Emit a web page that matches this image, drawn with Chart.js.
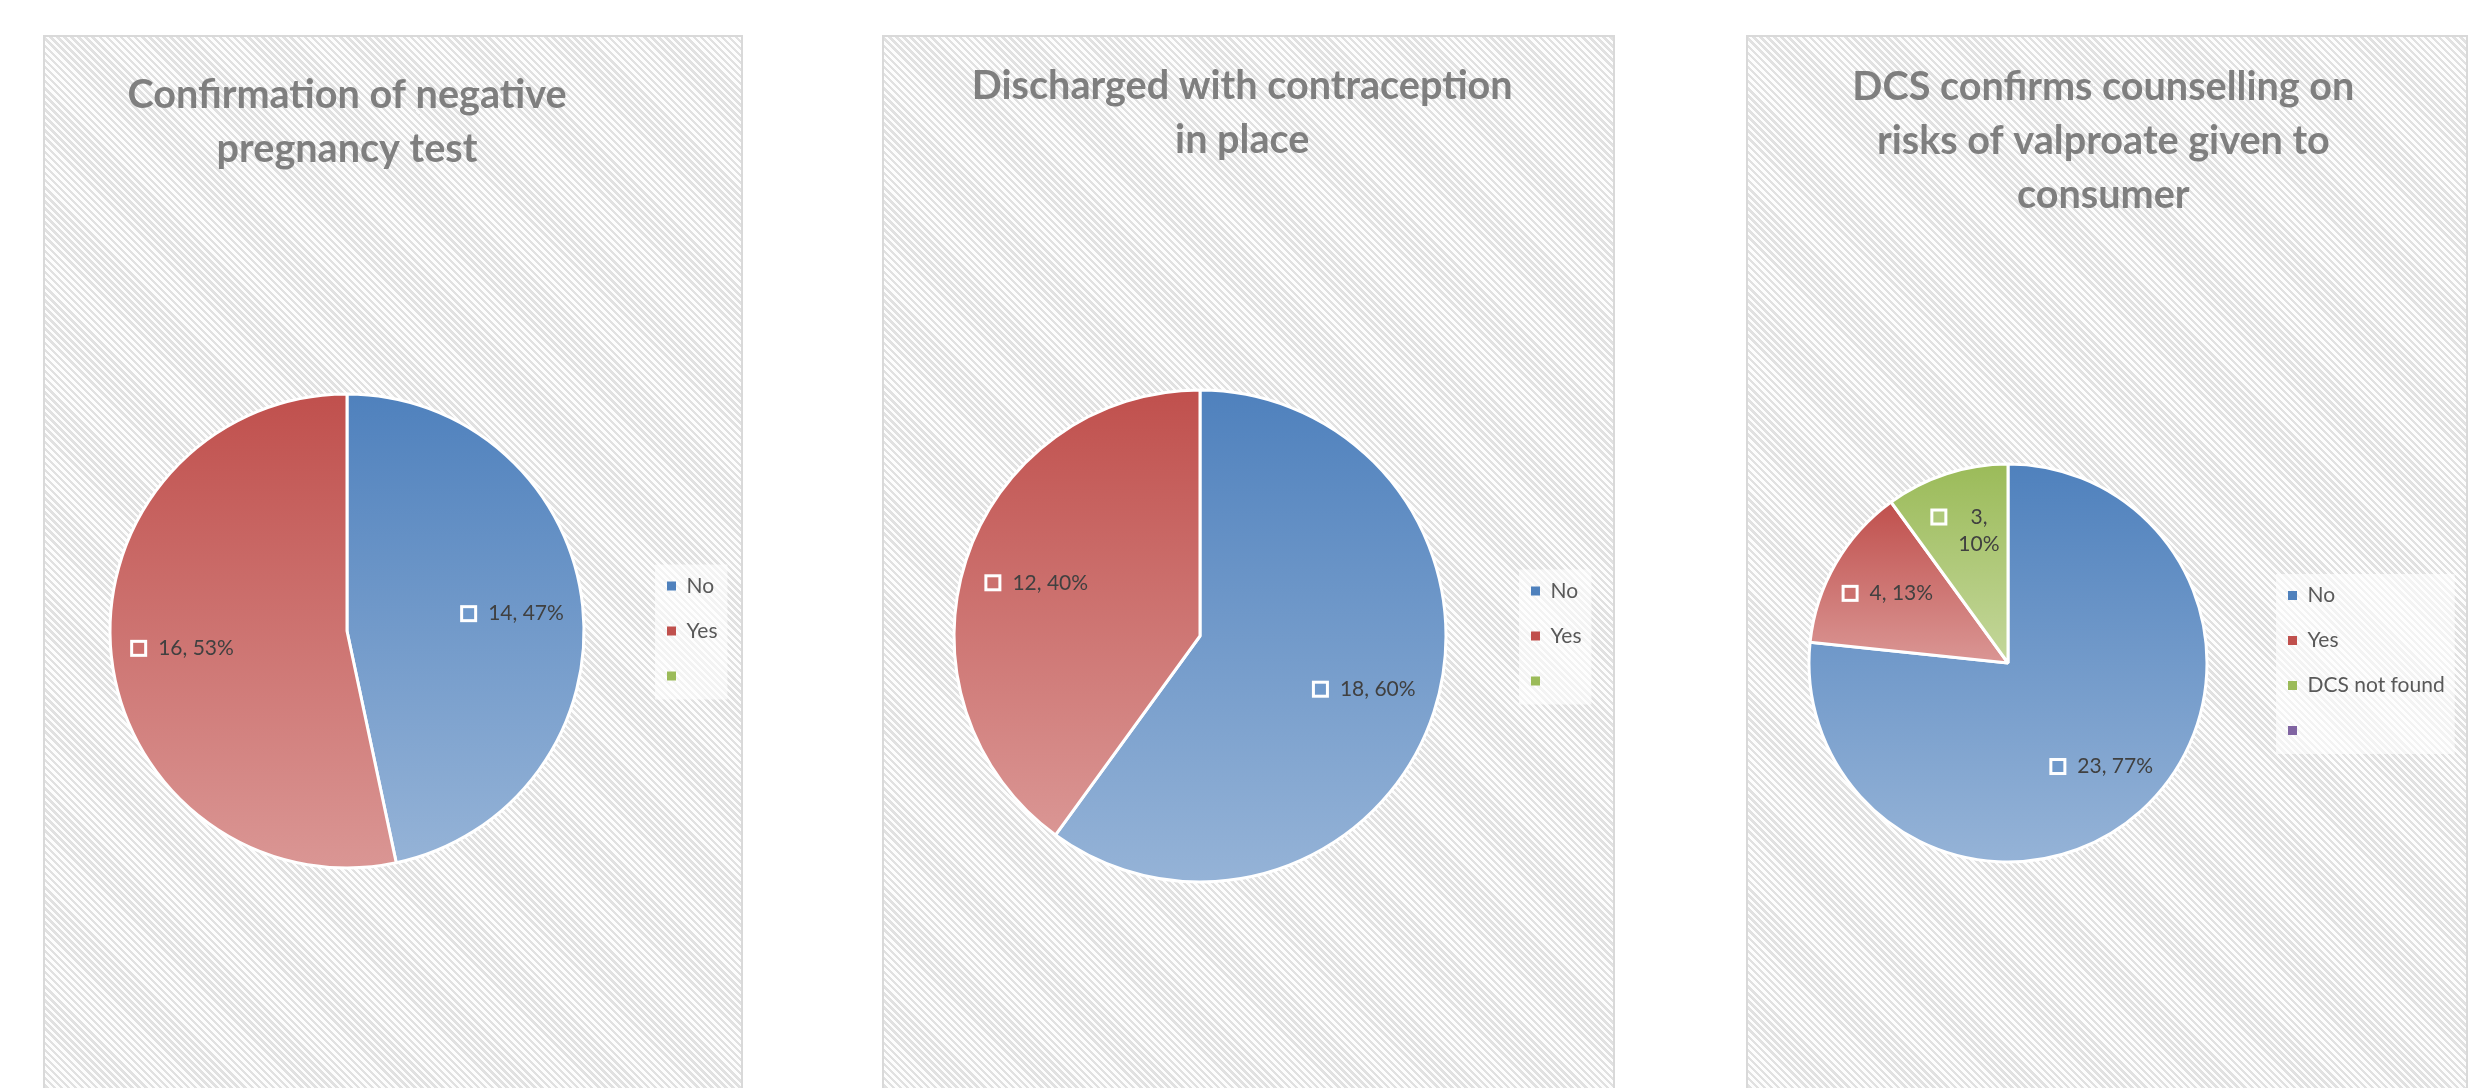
<!DOCTYPE html>
<html>
<head>
<meta charset="utf-8">
<script src="https://cdn.jsdelivr.net/npm/chart.js@4.4.1/dist/chart.umd.min.js"></script>
<style>
  html, body { margin: 0; padding: 0; background: #fff; overflow: hidden; }
  body { width: 2475px; height: 1088px; position: relative; }
  .panel {
    position: absolute; box-sizing: border-box; border: 2px solid #d9d9d9;
    background: repeating-linear-gradient(45deg, #fdfdfd 0px, #fdfdfd 2.5px, #e1e1e1 2.5px, #e1e1e1 5px);
  }
  canvas { position: absolute; }
</style>
</head>
<body>
<div class="panel" style="left:43px; top:35px; width:700px; height:1100px"></div>
<div class="panel" style="left:882px; top:35px; width:733px; height:1100px"></div>
<div class="panel" style="left:1746px; top:35px; width:722px; height:1100px"></div>
<canvas id="c1" style="left:43px; top:35px"></canvas>
<canvas id="c2" style="left:882px; top:35px"></canvas>
<canvas id="c3" style="left:1746px; top:35px"></canvas>
<script>
// chart 1
const title1 = ['Confirmation of negative', 'pregnancy test'];
const labels1 = ['No', 'Yes', ''];
const values1 = [14, 16, null];
// chart 2
const title2 = ['Discharged with contraception', 'in place'];
const labels2 = ['No', 'Yes', ''];
const values2 = [18, 12, null];
// chart 3
const title3 = ['DCS confirms counselling on', 'risks of valproate given to', 'consumer'];
const labels3 = ['No', 'Yes', 'DCS not found', ''];
const values3 = [23, 4, 3, null];

const topColors = ['#4f81bd', '#c0504d', '#9bbb59', '#8064a2'];
const bottomColors = ['#95b3d7', '#da9694', '#c4d79b', '#b3a2c7'];
const midColors = ['#6f99cb', '#cc706d', '#afc97a', '#9983b4'];

const legendFont = { family: 'Lato', size: 21 };
const legendPad = 24, legendBoxW = 9;

function textWidth(str, font) {
  const c = document.createElement('canvas').getContext('2d');
  c.font = font;
  return c.measureText(str).width;
}

// vertical gradient over each slice's own extent, like the office look
function sliceFill(c) {
  const i = c.dataIndex;
  const chart = c.chart;
  const area = chart.chartArea;
  if (i === undefined || !area) return topColors[i || 0];
  const ds = chart.data.datasets[0];
  const vals = ds.data;
  const total = vals.reduce((s, v) => s + (v || 0), 0);
  let before = 0;
  for (let k = 0; k < i; k++) before += vals[k] || 0;
  const a0 = -Math.PI / 2 + 2 * Math.PI * before / total;
  const a1 = a0 + 2 * Math.PI * (vals[i] || 0) / total;
  const cx = (area.left + area.right) / 2, cy = (area.top + area.bottom) / 2;
  const r = ds.radius;
  const ys = [cy, cy + r * Math.sin(a0), cy + r * Math.sin(a1)];
  [-Math.PI / 2, Math.PI / 2, 3 * Math.PI / 2].forEach(a => {
    if (a > a0 && a < a1) ys.push(cy + r * Math.sin(a));
  });
  let y0 = Math.min(...ys), y1 = Math.max(...ys);
  if (y1 - y0 < 1) y1 = y0 + 1;
  const g = chart.ctx.createLinearGradient(0, y0, 0, y1);
  g.addColorStop(0, topColors[i]);
  g.addColorStop(1, bottomColors[i]);
  return g;
}

const legendBox = {
  id: 'legendBox',
  beforeDraw(chart) {
    const boxes = chart.legend && chart.legend.legendHitBoxes;
    if (!boxes || !boxes.length) return;
    let l = Infinity, t = Infinity, r = -Infinity, b = -Infinity;
    boxes.forEach(h => {
      l = Math.min(l, h.left); t = Math.min(t, h.top);
      r = Math.max(r, h.left + h.width); b = Math.max(b, h.top + h.height);
    });
    const ctx = chart.ctx;
    ctx.save();
    ctx.fillStyle = 'rgba(255,255,255,0.6)';
    ctx.fillRect(l - 12, t - 11, r - l + 22, b - t + 24);
    ctx.restore();
  }
};

const sliceLabels = {
  id: 'sliceLabels',
  afterDatasetsDraw(chart) {
    const ds = chart.data.datasets[0];
    const meta = chart.getDatasetMeta(0);
    const total = ds.data.reduce((s, v) => s + (v || 0), 0);
    const ctx = chart.ctx;
    ctx.save();
    ctx.font = '21px Lato';
    ctx.textBaseline = 'middle';
    meta.data.forEach((arc, i) => {
      const v = ds.data[i];
      if (!v) return;
      const p = arc.getProps(['x', 'y', 'startAngle', 'endAngle', 'outerRadius'], true);
      const mid = (p.startAngle + p.endAngle) / 2;
      const r = p.outerRadius * 0.7;
      const cx = p.x + Math.cos(mid) * r, cy = p.y + Math.sin(mid) * r;
      const pct = Math.round(v / total * 100);
      const lines = (p.endAngle - p.startAngle) < 0.7 ? [v + ',', pct + '%'] : [v + ', ' + pct + '%'];
      const tw = Math.max(...lines.map(s => ctx.measureText(s).width));
      const gw = 17 + 11 + tw;
      const x0 = cx - gw / 2;
      const lh = 27;
      const y0 = cy - (lines.length - 1) * lh / 2;
      ctx.fillStyle = '#ffffff';
      ctx.fillRect(x0, y0 - 8.5, 17, 17);
      ctx.fillStyle = midColors[i];
      ctx.fillRect(x0 + 3, y0 - 5.5, 11, 11);
      ctx.fillStyle = '#404040';
      ctx.textAlign = 'center';
      lines.forEach((s, k) => ctx.fillText(s, x0 + 28 + tw / 2, y0 + k * lh));
    });
    ctx.restore();
  }
};

function makePie(id, labels, values, title, o) {
  const el = document.getElementById(id);
  const titleH = o.titleTop + title.length * 54;
  const height = Math.round(2 * o.centerY - titleH);
  el.width = o.width;
  el.height = height;
  const maxText = Math.max(...labels.map(s => textWidth(s, legendFont.size + 'px ' + legendFont.family)));
  const legendW = legendPad + legendBoxW + legendFont.size / 2 + maxText + 10;
  const padRight = o.width - o.legendLeft - legendW;
  const padLeft = 2 * o.centerX - o.legendLeft;

  return new Chart(el, {
    type: 'pie',
    data: {
      labels: labels,
      datasets: [{
        data: values,
        backgroundColor: sliceFill,
        borderColor: '#ffffff',
        borderWidth: 3,
        radius: o.radius
      }]
    },
    options: {
      responsive: false,
      animation: false,
      events: [],
      layout: { padding: { left: padLeft, right: padRight, top: 0, bottom: 0 } },
      plugins: {
        title: {
          display: true,
          text: title,
          fullSize: o.titleFull,
          color: '#7f7f7f',
          font: { family: 'Lato', size: 39.6, weight: 'bold', lineHeight: '54px' },
          padding: { top: o.titleTop, bottom: 0 }
        },
        legend: {
          position: 'right',
          fullSize: false,
          labels: {
            boxWidth: legendBoxW,
            boxHeight: 9,
            padding: legendPad,
            font: legendFont,
            color: '#595959',
            generateLabels: (chart) => chart.data.labels.map((text, i) => ({
              text: text,
              fillStyle: topColors[i],
              strokeStyle: topColors[i],
              lineWidth: 0,
              fontColor: '#595959',
              hidden: false,
              index: i
            }))
          }
        },
        tooltip: { enabled: false }
      }
    },
    plugins: [legendBox, sliceLabels]
  });
}

makePie('c1', labels1, values1, title1, { width: 700, centerX: 304, centerY: 596, radius: 237, legendLeft: 600, titleTop: 33, titleFull: false });
makePie('c2', labels2, values2, title2, { width: 733, centerX: 318, centerY: 601, radius: 246, legendLeft: 625, titleTop: 24, titleFull: true });
makePie('c3', labels3, values3, title3, { width: 722, centerX: 262, centerY: 628, radius: 199, legendLeft: 518, titleTop: 25, titleFull: true });
</script>
</body>
</html>
